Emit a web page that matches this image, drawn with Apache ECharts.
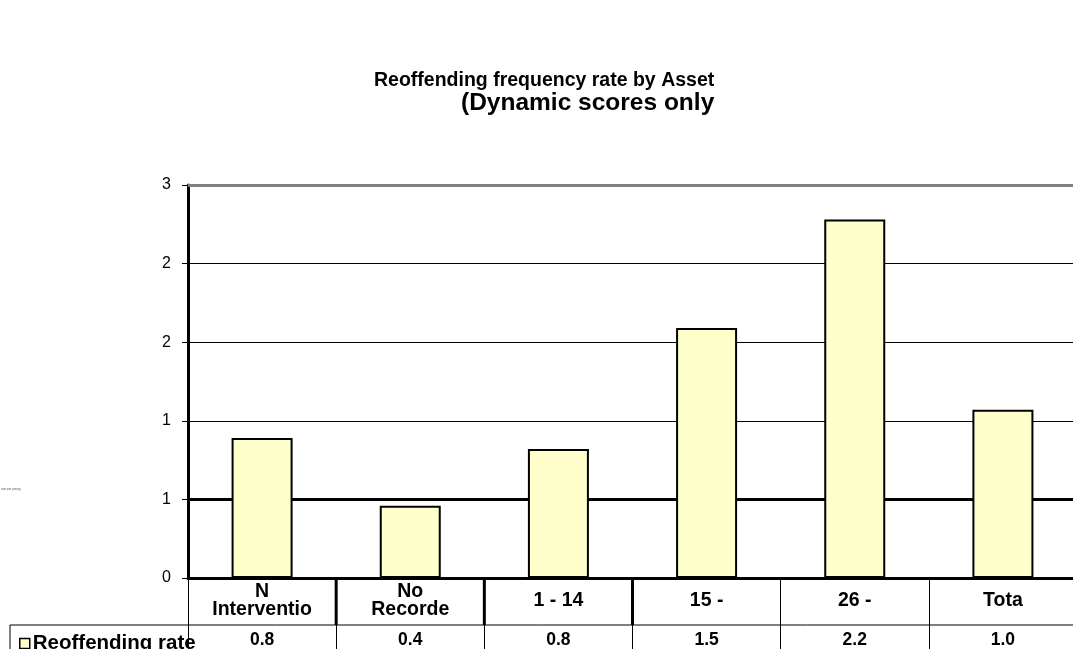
<!DOCTYPE html>
<html>
<head>
<meta charset="utf-8">
<script src="https://cdn.jsdelivr.net/npm/echarts@6/dist/echarts.min.js"></script>
<style>
  html, body { margin: 0; padding: 0; background: #fff; }
  #main { width: 1073px; height: 649px; }
</style>
</head>
<body>
<div id="main"></div>
<script>
// categories as printed in the data table (truncated as in the original)
var categories = ['N\nInterventio', 'No\nRecorde', '1 - 14', '15 -', '26 -', 'Tota']
// bar heights
var rates = [0.89, 0.46, 0.82, 1.59, 2.28, 1.07]
// values printed in the table row
var tableLabels = ['0.8', '0.4', '0.8', '1.5', '2.2', '1.0']
var seriesName = 'Reoffending rate'

var font = '"Liberation Sans", Arial, sans-serif'
var gridLeft = 188
var gridWidth = 889
var gridTop = 185
var gridBottom = 71

var chart = echarts.init(document.getElementById('main'))

chart.setOption({
  animation: false,
  title: [
    {
      text: 'Reoffending frequency rate by Asset',
      left: 369,
      top: 66,
      textStyle: { fontFamily: font, fontSize: 19.5, fontWeight: 'bold', color: '#000' }
    },
    {
      text: '(Dynamic scores only',
      left: 456,
      top: 86,
      textStyle: { fontFamily: font, fontSize: 24.5, fontWeight: 'bold', color: '#000' }
    }
  ],
  legend: {
    data: [seriesName],
    left: 14,
    top: 628,
    icon: 'rect',
    itemWidth: 10,
    itemHeight: 10,
    itemGap: 4,
    itemStyle: { color: '#FFFFCC', borderColor: '#000', borderWidth: 1.5 },
    textStyle: { fontFamily: font, fontSize: 20.5, fontWeight: 'bold', color: '#000', padding: [0, 0, 0, -2] }
  },
  grid: {
    left: gridLeft,
    width: gridWidth,
    top: gridTop,
    bottom: gridBottom,
    containLabel: false,
    outerBoundsMode: 'none'
  },
  xAxis: [
    {
      type: 'category',
      data: categories,
      axisLine: { lineStyle: { color: '#000', width: 3 } },
      axisTick: { show: true, interval: 0, length: 71, lineStyle: { color: '#000', width: 1 } },
      axisLabel: {
        interval: 0,
        margin: 23,
        verticalAlign: 'middle',
        lineHeight: 18,
        fontFamily: font,
        fontSize: 19.5,
        fontWeight: 'bold',
        color: '#000'
      }
    },
    {
      type: 'category',
      data: tableLabels,
      position: 'bottom',
      offset: 47,
      axisLine: { show: false },
      axisTick: { show: false },
      axisLabel: {
        interval: 0,
        margin: 15,
        verticalAlign: 'middle',
        fontFamily: font,
        fontSize: 17.5,
        fontWeight: 'bold',
        color: '#000'
      }
    }
  ],
  yAxis: {
    type: 'value',
    min: 0,
    max: 2.5,
    interval: 0.5,
    axisLine: { show: true, lineStyle: { color: '#000', width: 3 } },
    axisTick: { show: true, length: 6, lineStyle: { color: '#000', width: 1 } },
    axisLabel: {
      margin: 17,
      fontFamily: font,
      fontSize: 16,
      color: '#000',
      formatter: function (v) { return Math.round(v) }
    },
    splitLine: { show: true, lineStyle: { color: '#000', width: 1 } }
  },
  series: [
    {
      name: seriesName,
      type: 'bar',
      data: rates,
      barWidth: 61,
      itemStyle: { color: '#FFFFCC', borderColor: '#000', borderWidth: 2 },
      markLine: {
        silent: true,
        symbol: 'none',
        label: { show: false },
        z: 1,
        data: [
          { yAxis: 0.5, lineStyle: { color: '#000', width: 3, type: 'solid' } },
          { yAxis: 2.5, lineStyle: { color: '#808080', width: 3, type: 'solid' } }
        ]
      }
    }
  ]
})

// data table rules below the plot
var y0 = chart.convertToPixel({ yAxisIndex: 0 }, 0)
var rowY = y0 + 47
var bottomY = 649
var x1 = chart.convertToPixel({ xAxisIndex: 0 }, 1)
var x0 = chart.convertToPixel({ xAxisIndex: 0 }, 0)
var catW = x1 - x0
var left = x0 - catW / 2
var lines = [
  { shape: { x1: 10, y1: rowY, x2: 1073, y2: rowY }, w: 1 },
  { shape: { x1: 10, y1: rowY, x2: 10, y2: bottomY }, w: 1 }
]
;[1, 2, 3].forEach(function (k) {
  var x = left + k * catW
  lines.push({ shape: { x1: x, y1: y0, x2: x, y2: rowY }, w: 3 })
})

chart.setOption({
  graphic: lines.map(function (l) {
    return {
      type: 'line',
      shape: l.shape,
      style: { stroke: '#000', lineWidth: l.w },
      z: 10
    }
  }).concat([
    {
      type: 'text',
      left: 1,
      top: 488,
      style: { text: 'rate per young', fontSize: 3, fill: '#555', fontFamily: font }
    }
  ])
})
</script>
</body>
</html>
